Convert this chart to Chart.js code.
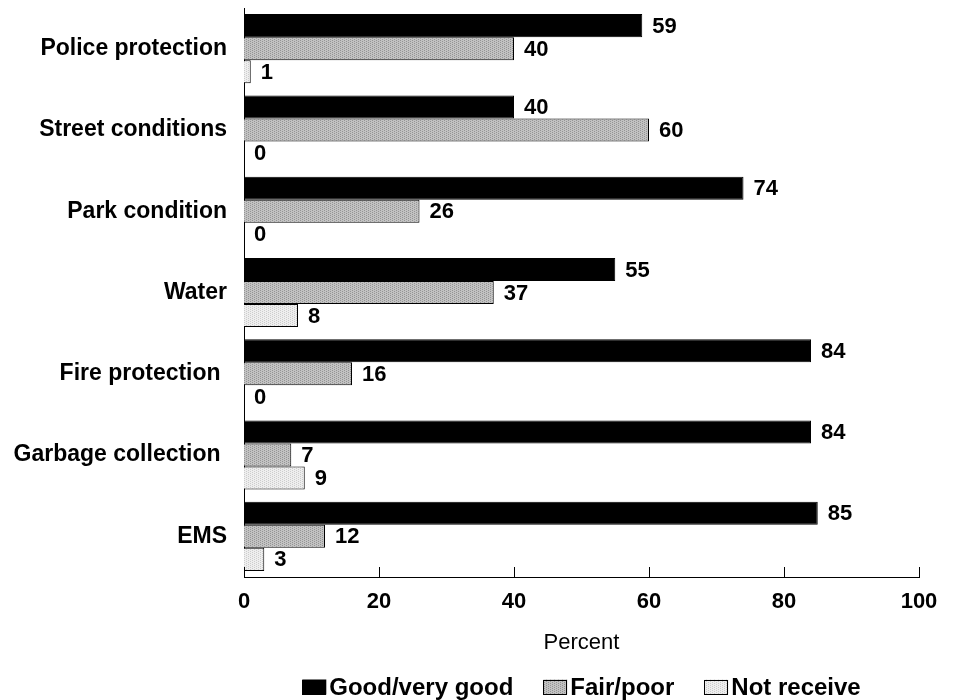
<!DOCTYPE html>
<html>
<head>
<meta charset="utf-8">
<script src="https://cdn.jsdelivr.net/npm/chart.js@4"></script>
<style>
  html, body { margin: 0; padding: 0; background: #fff; }
  #wrap { width: 956px; height: 700px; }
</style>
</head>
<body>
<div id="wrap"><canvas id="myChart" width="956" height="700"></canvas></div>
<script>
// data
const services = ['Police protection', 'Street conditions', 'Park condition', 'Water', 'Fire protection ', 'Garbage collection ', 'EMS'];
const goodVeryGood = [59, 40, 74, 55, 84, 84, 85];
const fairPoor = [40, 60, 26, 37, 16, 7, 12];
const notReceive = [1, 0, 0, 8, 0, 9, 3];
const seriesNames = ['Good/very good', 'Fair/poor', 'Not receive'];
const percentTicks = [0, 20, 40, 60, 80, 100];

const FONT = '"Liberation Sans", Arial, sans-serif';

// small dotted fills like the original
function makePattern(base, dot) {
  const c = document.createElement('canvas');
  c.width = 4; c.height = 4;
  const g = c.getContext('2d');
  g.fillStyle = base;
  g.fillRect(0, 0, 4, 4);
  g.fillStyle = dot;
  g.fillRect(0, 0, 1, 1);
  g.fillRect(2, 1, 1, 1);
  g.fillRect(0, 2, 1, 1);
  g.fillRect(2, 3, 1, 1);
  return g.createPattern(c, 'repeat');
}
const fairFill = makePattern('#c2c2c2', '#949494');
const notFill = makePattern('#eeeeee', '#cccccc');

// value labels at bar ends
const valueLabels = {
  id: 'valueLabels',
  afterDatasetsDraw(chart) {
    const ctx = chart.ctx;
    ctx.save();
    ctx.font = 'bold 22px ' + FONT;
    ctx.fillStyle = '#000';
    ctx.textAlign = 'left';
    ctx.textBaseline = 'middle';
    chart.data.datasets.forEach((ds, i) => {
      chart.getDatasetMeta(i).data.forEach((bar, j) => {
        ctx.fillText(String(ds.data[j]), bar.x + 10, bar.y + 1);
      });
    });
    ctx.restore();
  }
};

// x axis tick marks pointing up into the plot
const upTicks = {
  id: 'upTicks',
  afterDraw(chart) {
    const ctx = chart.ctx;
    const x = chart.scales.x;
    const bottom = chart.chartArea.bottom;
    ctx.save();
    ctx.strokeStyle = '#000';
    ctx.lineWidth = 1;
    percentTicks.forEach(v => {
      const px = Math.round(x.getPixelForValue(v)) + 0.5;
      ctx.beginPath();
      ctx.moveTo(px, bottom);
      ctx.lineTo(px, bottom - 10);
      ctx.stroke();
    });
    ctx.restore();
  }
};

// legend drawn by hand so box/text spacing matches
const bottomLegend = {
  id: 'bottomLegend',
  afterDraw(chart) {
    const ctx = chart.ctx;
    ctx.save();
    ctx.font = 'bold 24px ' + FONT;
    const boxW = 24, boxH = 15, gapText = 3, gapItem = 30;
    const items = chart.data.datasets.map(ds => ({ label: ds.label, fill: ds.backgroundColor, w: ctx.measureText(ds.label).width }));
    let total = 0;
    items.forEach((it, i) => { total += boxW + gapText + it.w + (i ? gapItem : 0); });
    const area = chart.chartArea;
    let x = (area.left + area.right) / 2 - total / 2;
    const cy = 687;
    ctx.textBaseline = 'middle';
    ctx.textAlign = 'left';
    items.forEach(it => {
      ctx.fillStyle = it.fill;
      ctx.fillRect(x, cy - boxH / 2, boxW, boxH);
      ctx.strokeStyle = '#000';
      ctx.lineWidth = 1;
      ctx.strokeRect(Math.round(x) + 0.5, Math.round(cy - boxH / 2) + 0.5, boxW - 1, boxH - 1);
      ctx.fillStyle = '#000';
      ctx.fillText(it.label, x + boxW + gapText, cy + 1);
      x += boxW + gapText + it.w + gapItem;
    });
    ctx.restore();
  }
};

const ctx = document.getElementById('myChart').getContext('2d');
new Chart(ctx, {
  type: 'bar',
  data: {
    labels: services,
    datasets: [
      { label: seriesNames[0], data: goodVeryGood, backgroundColor: '#000000', borderColor: '#000', borderWidth: 1 },
      { label: seriesNames[1], data: fairPoor, backgroundColor: fairFill, borderColor: '#000', borderWidth: 1 },
      { label: seriesNames[2], data: notReceive, backgroundColor: notFill, borderColor: '#000', borderWidth: 1 }
    ]
  },
  options: {
    indexAxis: 'y',
    responsive: false,
    animation: false,
    devicePixelRatio: 1,
    categoryPercentage: 0.85,
    barPercentage: 1,
    layout: { padding: { top: 8, right: 37, bottom: 43, left: 0 } },
    plugins: {
      legend: { display: false },
      tooltip: { enabled: false },
      title: { display: false }
    },
    scales: {
      x: {
        min: 0,
        max: 100,
        afterBuildTicks: s => { s.ticks = percentTicks.map(v => ({ value: v })); },
        afterFit: s => { s.height = 80; },
        grid: { display: false, drawTicks: false },
        border: { display: true, color: '#000', width: 1 },
        ticks: {
          color: '#000',
          padding: 12,
          maxRotation: 0,
          font: { family: FONT, size: 22, weight: 'bold' }
        },
        title: {
          display: true,
          text: 'Percent',
          color: '#000',
          padding: { top: 0, bottom: 1 },
          font: { family: FONT, size: 22, weight: 'normal' }
        }
      },
      y: {
        afterFit: s => { s.width = 244; s.paddingTop = 0; s.paddingBottom = 0; },
        grid: { display: false, drawTicks: false },
        border: { display: true, color: '#000', width: 1 },
        ticks: {
          color: '#000',
          padding: 17,
          autoSkip: false,
          font: { family: FONT, size: 23, weight: 'bold' }
        }
      }
    }
  },
  plugins: [valueLabels, upTicks, bottomLegend]
});
</script>
</body>
</html>
